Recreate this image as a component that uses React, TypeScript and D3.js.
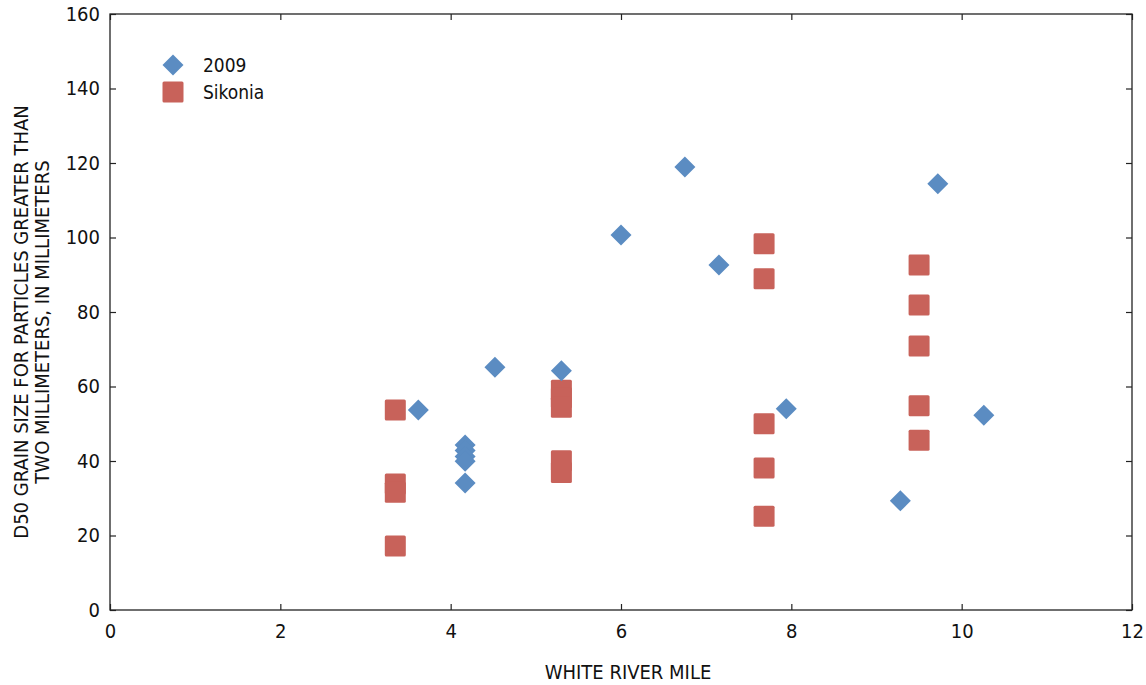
import { useRef, useEffect } from "react";
import * as d3 from "d3";

// 2009 survey (diamonds)
const mile2009 = [3.62, 4.17, 4.17, 4.17, 4.17, 4.17, 4.52, 5.3, 6.0, 6.75, 7.15, 7.94, 9.28, 9.72, 10.26];
const d50_2009 = [53.7, 44.3, 42.8, 41.2, 39.9, 34.1, 65.2, 64.2, 100.7, 118.9, 92.6, 54.0, 29.3, 114.4, 52.3];

// Sikonia (squares)
const mileSikonia = [3.35, 3.35, 3.35, 3.35, 5.3, 5.3, 5.3, 5.3, 5.3, 7.68, 7.68, 7.68, 7.68, 7.68, 9.5, 9.5, 9.5, 9.5, 9.5];
const d50Sikonia = [53.7, 33.8, 31.6, 17.2, 59.0, 57.0, 54.4, 40.1, 36.9, 98.3, 88.9, 50.0, 38.1, 25.2, 92.6, 81.9, 70.9, 54.8, 45.6];

const xTicks = [0, 2, 4, 6, 8, 10, 12];
const yTicks = [0, 20, 40, 60, 80, 100, 120, 140, 160];

const FONT = "'Liberation Sans Narrow', 'DejaVu Sans Condensed', 'Roboto', sans-serif";
const BLUE = "#5b8cc2";
const RED = "#c8625a";

export default function App() {
  const svgRef = useRef<SVGSVGElement>(null);

  useEffect(() => {
    if (!svgRef.current) return;
    const width = 1146;
    const height = 685;
    const margin = { top: 14, right: 14, bottom: 75, left: 110 };
    const innerW = width - margin.left - margin.right;
    const innerH = height - margin.top - margin.bottom;

    const svg = d3.select(svgRef.current);
    svg.selectAll("*").remove();
    svg.attr("width", width).attr("height", height).attr("viewBox", `0 0 ${width} ${height}`);

    const g = svg.append("g").attr("transform", `translate(${margin.left},${margin.top})`);

    const x = d3.scaleLinear().domain([0, 12]).range([0, innerW]);
    const y = d3.scaleLinear().domain([0, 160]).range([innerH, 0]);

    const styleAxis = (sel: d3.Selection<SVGGElement, unknown, null, undefined>, labels: boolean) => {
      sel.select(".domain").remove();
      sel.selectAll("line").attr("stroke", "#222").attr("stroke-width", 1.2);
      if (labels) {
        sel.selectAll("text").style("font-family", FONT).style("font-size", "20px").attr("fill", "#111");
      } else {
        sel.selectAll("text").remove();
      }
    };

    // bottom axis, ticks inward
    g.append("g")
      .attr("transform", `translate(0,${innerH})`)
      .call(d3.axisBottom(x).tickValues(xTicks).tickSize(-6).tickPadding(14).tickFormat(d3.format("d")))
      .call((a) => styleAxis(a, true));
    // top axis
    g.append("g")
      .call(d3.axisTop(x).tickValues(xTicks).tickSize(-6))
      .call((a) => styleAxis(a, false));
    // left axis
    g.append("g")
      .call(d3.axisLeft(y).tickValues(yTicks).tickSize(-6).tickPadding(10).tickFormat(d3.format("d")))
      .call((a) => styleAxis(a, true));
    // right axis
    g.append("g")
      .attr("transform", `translate(${innerW},0)`)
      .call(d3.axisRight(y).tickValues(yTicks).tickSize(-6))
      .call((a) => styleAxis(a, false));

    // frame
    g.append("rect")
      .attr("width", innerW)
      .attr("height", innerH)
      .attr("fill", "none")
      .attr("stroke", "#222")
      .attr("stroke-width", 1.3);

    const sq = 21;
    const dm = 10.5;
    const diamondPath = `M0,${-dm}L${dm},0L0,${dm}L${-dm},0Z`;

    // Sikonia squares
    g.selectAll(".sq")
      .data(d3.range(mileSikonia.length))
      .join("rect")
      .attr("x", (i) => x(mileSikonia[i]) - sq / 2)
      .attr("y", (i) => y(d50Sikonia[i]) - sq / 2)
      .attr("width", sq)
      .attr("height", sq)
      .attr("rx", 1.5)
      .attr("fill", RED);

    // 2009 diamonds
    g.selectAll(".dm")
      .data(d3.range(mile2009.length))
      .join("path")
      .attr("d", diamondPath)
      .attr("transform", (i) => `translate(${x(mile2009[i])},${y(d50_2009[i])})`)
      .attr("fill", BLUE);

    // legend
    const leg = svg.append("g");
    leg.append("path").attr("d", diamondPath).attr("transform", "translate(173,65)").attr("fill", BLUE);
    leg.append("rect").attr("x", 173 - sq / 2).attr("y", 92 - sq / 2).attr("width", sq).attr("height", sq).attr("rx", 1.5).attr("fill", RED);
    leg.selectAll("text")
      .data(["2009", "Sikonia"])
      .join("text")
      .attr("x", 203)
      .attr("y", (_, i) => 65 + i * 27)
      .attr("dy", "0.35em")
      .style("font-family", FONT)
      .style("font-size", "19px")
      .attr("fill", "#111")
      .text((d) => d);

    // axis titles
    svg.append("text")
      .attr("x", 628)
      .attr("y", 679)
      .attr("text-anchor", "middle")
      .style("font-family", FONT)
      .style("font-size", "20px")
      .attr("fill", "#111")
      .text("WHITE RIVER MILE");

    const yt = svg.append("text")
      .attr("transform", "translate(0,322) rotate(-90)")
      .attr("text-anchor", "middle")
      .style("font-family", FONT)
      .style("font-size", "20px")
      .attr("fill", "#111");
    yt.append("tspan").attr("x", 0).attr("y", 28).text("D50 GRAIN SIZE FOR PARTICLES GREATER THAN");
    yt.append("tspan").attr("x", 0).attr("y", 49).text("TWO MILLIMETERS, IN MILLIMETERS");
  }, []);

  return (
    <svg
      ref={svgRef}
      style={{ position: "absolute", left: 0, top: 0, background: "#fff", display: "block" }}
    />
  );
}
